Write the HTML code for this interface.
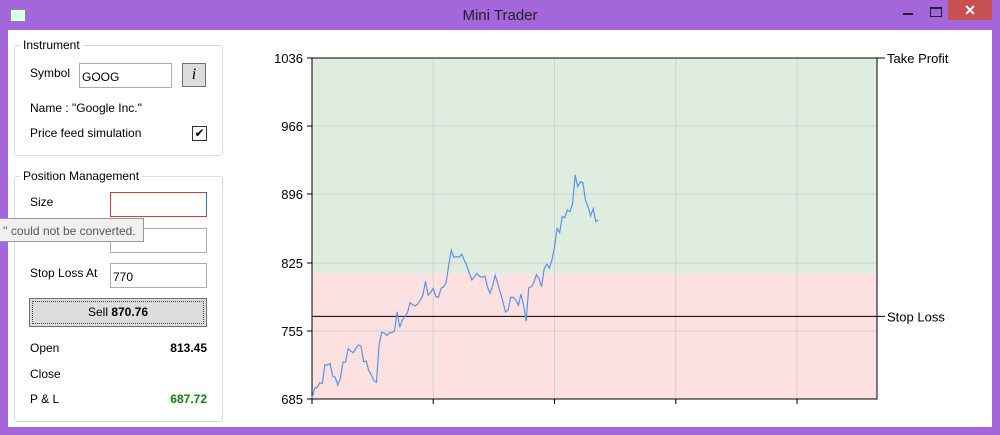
<!DOCTYPE html>
<html><head><meta charset="utf-8"><style>
body{margin:0;width:1000px;height:435px;overflow:hidden;background:#a566dc;font-family:"Liberation Sans",sans-serif;font-size:12px;color:#000;position:relative}
.abs{position:absolute}
.grp{position:absolute;border:1px solid #d5dfe5;border-radius:3px}
.gt{position:absolute;background:#fff;padding:0 3px;top:-8px;left:5px;font-size:12px}
.tb{position:absolute;border:1px solid #abadb3;background:#fff;height:22px;box-sizing:border-box;padding:3px 2px;font-size:12px}
</style></head><body>
<div class="abs" style="left:0;top:0;width:1000px;height:30px">
  <div class="abs" style="left:10px;top:9px;width:14px;height:11px;background:#dfe;border:1px solid #888"></div>
  <div class="abs" style="left:0;width:1000px;top:7px;text-align:center;font-size:15px;color:#222">Mini Trader</div>
  <div class="abs" style="left:903px;top:13px;width:10px;height:2px;background:#222"></div>
  <div class="abs" style="left:930px;top:7px;width:10px;height:7px;border:1px solid #222;border-top-width:2px"></div>
  <div class="abs" style="left:948px;top:0;width:44px;height:20px;background:#c75050;color:#fff;text-align:center;font-size:14px;line-height:20px;font-weight:bold">✕</div>
</div>
<div class="abs" style="left:8px;top:30px;width:984px;height:397px;background:#fff"></div>

<div class="grp" style="left:14px;top:45px;width:207px;height:109px">
  <div class="gt">Instrument</div>
</div>
<div class="abs" style="left:30px;top:66px">Symbol</div>
<div class="tb" style="left:79px;top:63px;width:93px;height:25px;padding-top:6px">GOOG</div>
<div class="abs" style="left:182px;top:63px;width:24px;height:24px;box-sizing:border-box;background:#ddd;border:1px solid #707070;text-align:center;font-family:'Liberation Serif',serif;font-style:italic;font-size:16px;line-height:22px">i</div>
<div class="abs" style="left:30px;top:101px">Name : "Google Inc."</div>
<div class="abs" style="left:30px;top:126px">Price feed simulation</div>
<div class="abs" style="left:192px;top:126px;width:13px;height:13px;border:1px solid #333;font-size:12px;line-height:13px;text-align:center">✔</div>

<div class="grp" style="left:14px;top:176px;width:207px;height:244px">
  <div class="gt">Position Management</div>
</div>
<div class="abs" style="left:30px;top:195px">Size</div>
<div class="tb" style="left:110px;top:192px;width:97px;height:25px;border:1px solid #e53935;border-right-color:#3a6fc4"></div>
<div class="tb" style="left:110px;top:228px;width:97px;height:25px"></div>
<div class="abs" style="left:-1px;top:218px;width:145px;height:24px;box-sizing:border-box;background:#f0f0f0;border:1px solid #999;color:#555;padding:5px 0 0 3px;font-size:12px">'' could not be converted.</div>
<div class="abs" style="left:30px;top:266px">Stop Loss At</div>
<div class="tb" style="left:110px;top:263px;width:97px;height:25px;padding-top:6px">770</div>
<div class="abs" style="left:29px;top:298px;width:178px;height:29px;box-sizing:border-box;background:#ddd;border:1px solid #707070;outline:1px dotted #444;outline-offset:-4px;text-align:center;line-height:27px">Sell <b>870.76</b></div>
<div class="abs" style="left:30px;top:341px">Open</div>
<div class="abs" style="left:150px;width:57px;text-align:right;top:341px;font-weight:bold">813.45</div>
<div class="abs" style="left:30px;top:367px">Close</div>
<div class="abs" style="left:30px;top:392px">P &amp; L</div>
<div class="abs" style="left:150px;width:57px;text-align:right;top:392px;font-weight:bold;color:#108010">687.72</div>

<svg id="chart" class="abs" style="left:0;top:0" width="1000" height="435"></svg>
<script>
const prices=[685.7,696,697,701.8,701.1,720.3,720,721.7,708.7,707.3,699.4,706.3,723,723,736.8,734.4,732.7,737.1,740.6,739.5,723.4,724.1,714.2,709.7,703.9,702.2,740.6,753.6,752.9,750.2,753.3,753.3,755,774.9,758.8,766.3,769.7,773.9,784.2,782.1,780.7,782.8,786.9,792,806.1,792,794.8,798.9,790.3,789.6,798.9,800.6,804.7,822.9,838,830.8,831.5,830.8,834.2,828.1,821.9,814.3,807.5,810.9,814.3,810.9,810.2,811.6,800.6,793.8,801.3,812.3,804,794.4,785.2,774.5,776.6,789.6,789.6,786.9,781.4,793,781.8,765.3,799.3,800.6,804.7,813,808.9,800.6,819.1,823.9,819.5,828.1,841.1,860.7,856.2,872.7,871.6,879.5,877.8,886.4,915.6,903.6,908.7,907.7,889.8,883,873.4,880.9,867.5,869.2];
const yTicks=[685,755,825,896,966,1036];
const xTicks=[0,47,94,141,188];
const takeProfit=1036, stopLoss=770, openPrice=814;
const yMin=685,yMax=1036,xMax=219;
const L=312,R=877,T=58,B=399;
const X=v=>L+(v/xMax)*(R-L);
const Y=v=>B-(v-yMin)/(yMax-yMin)*(B-T);
const svg=document.getElementById('chart');
const NS='http://www.w3.org/2000/svg';
function mk(tag,a){const e=document.createElementNS(NS,tag);for(const k in a)e.setAttribute(k,a[k]);svg.appendChild(e);return e;}
let e;
e=mk('rect',{x:L,y:Y(takeProfit),width:R-L,height:Y(openPrice)-Y(takeProfit),fill:'#deede0'});


e=mk('rect',{x:L,y:Y(openPrice),width:R-L,height:B-Y(openPrice),fill:'#fde0e0'});


yTicks.forEach(v=>{
  e=mk('line',{x1:L-5,x2:R,y1:Y(v),y2:Y(v),stroke:'#d2d2d2'});
  
  
  e=mk('line',{x1:L-5,x2:L,y1:Y(v),y2:Y(v),stroke:'#000'});
  
  
  e=mk('text',{x:L-9,y:Y(v)+5,'text-anchor':'end','font-size':13,'font-family':'Liberation Sans, sans-serif'});
  e.textContent=v;
  
  
});
xTicks.forEach(v=>{
  e=mk('line',{x1:X(v),x2:X(v),y1:T,y2:B+5,stroke:'#d2d2d2'});
  
  
  e=mk('line',{x1:X(v),x2:X(v),y1:B,y2:B+5,stroke:'#000'});
  
  
});
e=mk('rect',{x:L,y:T,width:R-L,height:B-T,fill:'none',stroke:'#000'});


e=mk('line',{x1:L,x2:885,y1:Y(takeProfit),y2:Y(takeProfit),stroke:'#000'});


e=mk('text',{x:887,y:Y(takeProfit)+5,'font-size':13,'font-family':'Liberation Sans, sans-serif'});
e.textContent='Take Profit';


e=mk('line',{x1:L,x2:885,y1:Y(stopLoss),y2:Y(stopLoss),stroke:'#000'});


e=mk('text',{x:887,y:Y(stopLoss)+5,'font-size':13,'font-family':'Liberation Sans, sans-serif'});
e.textContent='Stop Loss';


e=mk('polyline',{points:prices.map((v,i)=>X(i)+','+Y(v)).join(' '),fill:'none',stroke:'#5b93e6','stroke-width':1.2});


</script>
</body></html>
